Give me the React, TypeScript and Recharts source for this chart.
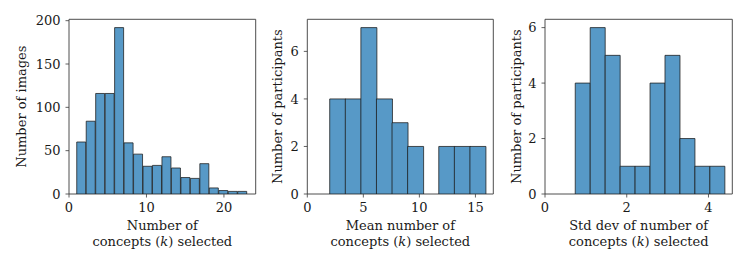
import React from 'react'
import { BarChart, Bar, XAxis, YAxis, ReferenceArea } from 'recharts'

// counts per histogram bin
const imagesCounts = [60, 84, 116, 116, 192, 59, 46, 32, 33, 43, 30, 19, 18, 35, 7, 4, 3, 3]
const imagesBinRange = [1, 23]
const imagesXTicks = [0, 10, 20]
const imagesYTicks = [0, 50, 100, 150, 200]

const meanCounts = [4, 4, 7, 4, 3, 2, 0, 2, 2, 2]
const meanBinRange = [2.0, 15.9]
const meanXTicks = [0, 5, 10, 15]
const meanYTicks = [0, 2, 4, 6]

const stdCounts = [4, 6, 5, 1, 1, 4, 5, 2, 1, 1]
const stdBinRange = [0.74, 4.4]
const stdXTicks = [0, 2, 4]
const stdYTicks = [0, 2, 4, 6]

const FONT = '"DejaVu Serif", serif'
const TEXT = '#1a1a1a'
const SPINE = '#3a3a3a'

function toBins(counts: number[], range: number[]) {
  const w = (range[1] - range[0]) / counts.length
  return counts.map((count, i) => ({ center: range[0] + (i + 0.5) * w, count }))
}

type HistProps = {
  left: number
  width: number
  yAxisWidth: number
  rightMargin: number
  counts: number[]
  binRange: number[]
  xTicks: number[]
  yTicks: number[]
  yLabel: string
  yLabelX: number
  xLine1: string
}

function Histogram(p: HistProps) {
  const data = toBins(p.counts, p.binRange)
  const xMax = p.binRange[1] + 0.05 * (p.binRange[1] - p.binRange[0])
  const yMax = Math.max(...p.counts) * 1.05

  const renderXLabel = (props: any) => {
    const vb = props.viewBox || {}
    const cx = (vb.x ?? 0) + (vb.width ?? 0) / 2
    const y = vb.y ?? 194
    return (
      <text textAnchor="middle" fontFamily={FONT} fontSize={13} fill={TEXT}>
        <tspan x={cx} y={y + 36}>{p.xLine1}</tspan>
        <tspan x={cx} y={y + 51.5}>
          concepts (<tspan fontStyle="italic">k</tspan>) selected
        </tspan>
      </text>
    )
  }

  const renderYLabel = (props: any) => {
    const vb = props.viewBox || {}
    const cy = (vb.y ?? 19) + (vb.height ?? 175) / 2
    return (
      <text
        x={p.yLabelX}
        y={cy}
        transform={`rotate(-90 ${p.yLabelX} ${cy})`}
        textAnchor="middle"
        fontFamily={FONT}
        fontSize={13}
        fill={TEXT}
      >
        {p.yLabel}
      </text>
    )
  }

  const tickStyle = { fontFamily: FONT, fontSize: 13, fill: TEXT }

  return (
    <div style={{ position: 'absolute', top: 0, left: p.left, width: p.width, height: 274 }}>
      <BarChart
        width={p.width}
        height={274}
        data={data}
        margin={{ top: 19.3, right: p.rightMargin, bottom: 0, left: 0 }}
        barCategoryGap={0}
        barGap={0}
      >
        <XAxis
          dataKey="center"
          type="number"
          domain={[0, xMax]}
          allowDataOverflow
          ticks={p.xTicks}
          interval={0}
          height={80}
          axisLine={false}
          tickLine={{ stroke: SPINE, strokeWidth: 0.8 }}
          tickSize={3.5}
          tickMargin={5}
          tick={tickStyle}
          label={{ content: renderXLabel }}
        />
        <YAxis
          type="number"
          domain={[0, yMax]}
          allowDataOverflow
          ticks={p.yTicks}
          interval={0}
          width={p.yAxisWidth}
          axisLine={false}
          tickLine={{ stroke: SPINE, strokeWidth: 0.8 }}
          tickSize={3.5}
          tickMargin={5}
          tick={tickStyle}
          label={{ content: renderYLabel }}
        />
        <Bar
          dataKey="count"
          fill="#5799c7"
          stroke="#1c1c1c"
          strokeOpacity={0.85}
          strokeWidth={0.9}
          isAnimationActive={false}
        />
        <ReferenceArea
          x1={0}
          x2={xMax}
          y1={0}
          y2={yMax}
          fill="none"
          stroke={SPINE}
          strokeWidth={0.9}
          ifOverflow="visible"
        />
      </BarChart>
    </div>
  )
}

export default function App() {
  return (
    <div style={{ position: 'absolute', top: 0, left: 0, width: 747, height: 274, background: '#fff' }}>
      <Histogram
        left={0}
        width={262}
        yAxisWidth={69}
        rightMargin={6.3}
        counts={imagesCounts}
        binRange={imagesBinRange}
        xTicks={imagesXTicks}
        yTicks={imagesYTicks}
        yLabel="Number of images"
        yLabelX={26}
        xLine1="Number of"
      />
      <Histogram
        left={262}
        width={240}
        yAxisWidth={45.3}
        rightMargin={8.7}
        counts={meanCounts}
        binRange={meanBinRange}
        xTicks={meanXTicks}
        yTicks={meanYTicks}
        yLabel="Number of participants"
        yLabelX={20}
        xLine1="Mean number of"
      />
      <Histogram
        left={502}
        width={245}
        yAxisWidth={43}
        rightMargin={14.7}
        counts={stdCounts}
        binRange={stdBinRange}
        xTicks={stdXTicks}
        yTicks={stdYTicks}
        yLabel="Number of participants"
        yLabelX={19}
        xLine1="Std dev of number of"
      />
    </div>
  )
}
